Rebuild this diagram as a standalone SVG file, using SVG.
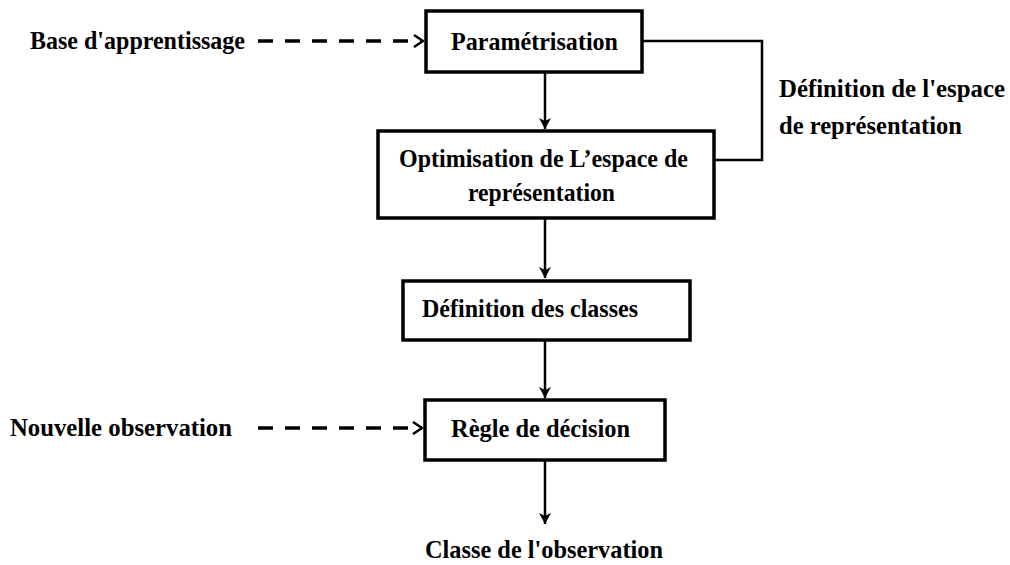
<svg xmlns="http://www.w3.org/2000/svg" width="1010" height="565" viewBox="0 0 1010 565">
<style>
text{font-family:"Liberation Serif","Times New Roman",serif;font-weight:bold;font-size:25px;fill:#000}
.box{fill:#fff;stroke:#000;stroke-width:3.5}
.ln{fill:none;stroke:#000;stroke-width:2.5}
.dash{fill:none;stroke:#000;stroke-width:3.5;stroke-dasharray:15 12}
</style>
<defs>
<marker id="ah" markerWidth="12" markerHeight="14" refX="11" refY="7" orient="auto" markerUnits="userSpaceOnUse">
<path d="M0,1 L11,7 L0,13 L3,7 Z" fill="#000"/>
</marker>
<marker id="ao" markerWidth="12" markerHeight="14" refX="11" refY="7" orient="auto" markerUnits="userSpaceOnUse">
<path d="M2,1 L11,7 L2,13" fill="none" stroke="#000" stroke-width="2.5"/>
</marker>
</defs>
<rect width="1010" height="565" fill="#fff"/>
<g id="connectors">
<line class="dash" x1="258" y1="41" x2="423" y2="41" marker-end="url(#ao)"/>
<line class="dash" x1="258" y1="428" x2="422" y2="428" marker-end="url(#ao)"/>
<line class="ln" x1="545" y1="72" x2="545" y2="129" marker-end="url(#ah)"/>
<line class="ln" x1="545" y1="218" x2="545" y2="278" marker-end="url(#ah)"/>
<line class="ln" x1="545" y1="340" x2="545" y2="398" marker-end="url(#ah)"/>
<line class="ln" x1="545" y1="460" x2="545" y2="524" marker-end="url(#ah)"/>
<polyline class="ln" points="642,41 762,41 762,160 714,160" stroke-width="3"/>
</g>
<g id="base"><text x="30" y="49" textLength="215" lengthAdjust="spacingAndGlyphs">Base d'apprentissage</text></g>
<g id="nouvelle"><text x="10" y="436" textLength="222" lengthAdjust="spacingAndGlyphs">Nouvelle observation</text></g>
<g id="parametrisation">
<rect class="box" x="426" y="11" width="216" height="61"/>
<text x="451" y="50" textLength="167" lengthAdjust="spacingAndGlyphs">Paramétrisation</text>
</g>
<g id="optimisation">
<rect class="box" x="378" y="131" width="336" height="87"/>
<text x="399" y="167" textLength="289" lengthAdjust="spacingAndGlyphs">Optimisation de L’espace de</text>
<text x="468" y="201" textLength="147" lengthAdjust="spacingAndGlyphs">représentation</text>
</g>
<g id="definition-classes">
<rect class="box" x="403" y="281" width="287" height="59"/>
<text x="422" y="317" textLength="216" lengthAdjust="spacingAndGlyphs">Définition des classes</text>
</g>
<g id="regle">
<rect class="box" x="425" y="400" width="240" height="60"/>
<text x="451" y="437" textLength="179" lengthAdjust="spacingAndGlyphs">Règle de décision</text>
</g>
<g id="definition-espace">
<text x="779" y="97" textLength="226" lengthAdjust="spacingAndGlyphs">Définition de l'espace</text>
<text x="779" y="134" textLength="183" lengthAdjust="spacingAndGlyphs">de représentation</text>
</g>
<g id="classe"><text x="425" y="558" textLength="238" lengthAdjust="spacingAndGlyphs">Classe de l'observation</text></g>
</svg>
